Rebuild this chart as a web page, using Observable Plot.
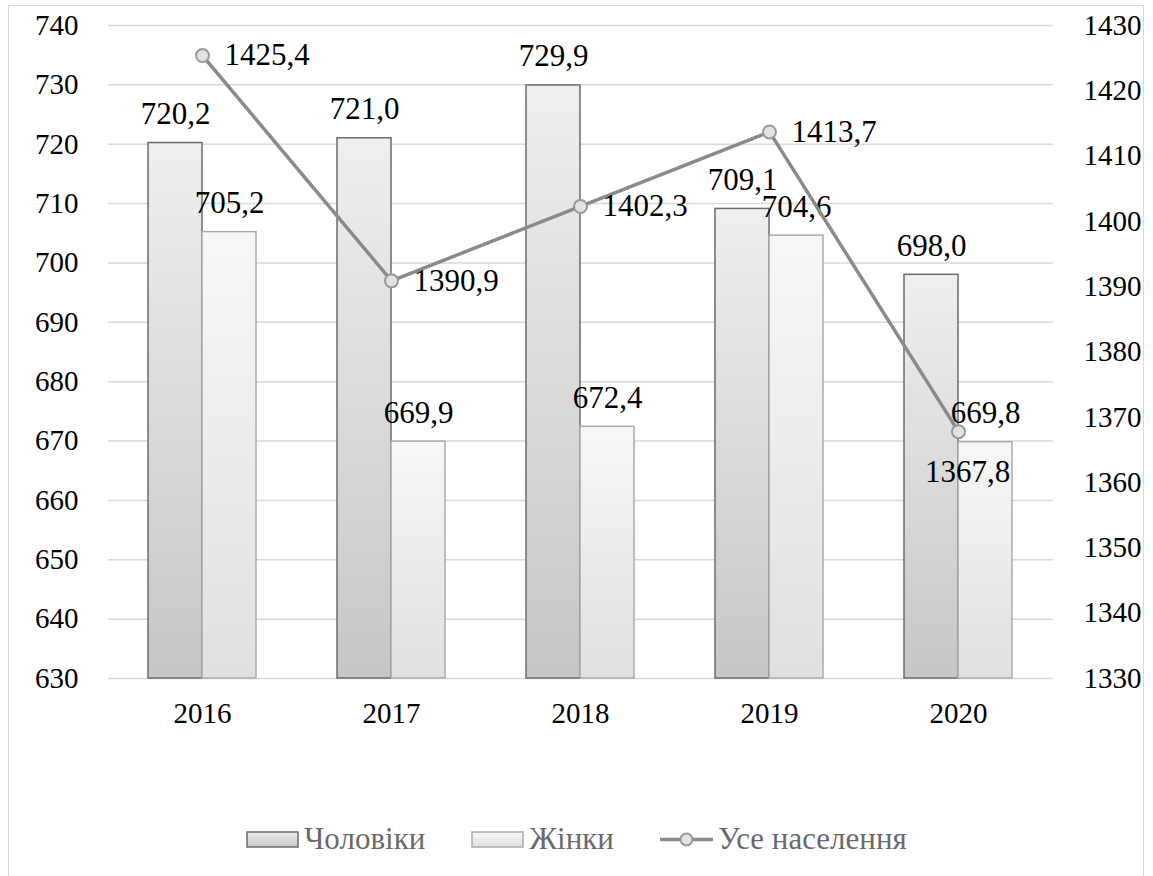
<!DOCTYPE html>
<html><head><meta charset="utf-8">
<script src="https://cdn.jsdelivr.net/npm/d3@7"></script>
<script src="https://cdn.jsdelivr.net/npm/@observablehq/plot@0.6"></script>
<style>
body{margin:0;background:#fff;}
#frame{position:absolute;left:8px;top:5px;width:1136px;height:900px;border:1px solid #d9d9d9;box-sizing:border-box;pointer-events:none;}
#legend{display:flex;justify-content:center;align-items:center;height:50px;margin-top:54px;color:#6a6a6a;font-size:31px;}
#legend .it{display:flex;align-items:center;margin:0 23px;}
#legend svg{margin-right:5px;}
</style></head><body style="font-family:'Liberation Serif', serif">
<div id="chart"></div>
<div id="legend" style="font-family:'Liberation Serif', serif"></div>
<div id="frame"></div>
<script>
const years = ["2016","2017","2018","2019","2020"];
const men = [720.2, 721.0, 729.9, 709.1, 698.0];
const women = [705.2, 669.9, 672.4, 704.6, 669.8];
const total = [1425.4, 1390.9, 1402.3, 1413.7, 1367.8];
const leftTicks = [630,640,650,660,670,680,690,700,710,720,730,740];
const rightTicks = [1330,1340,1350,1360,1370,1380,1390,1400,1410,1420,1430];
const seriesNames = ["Чоловіки","Жінки","Усе населення"];

const FF = "'Liberation Serif', serif";
const fmt = v => v.toFixed(1).replace(".", ",");
const toLeft = v => 630 + (v - 1330) * 1.1;
const fromLeft = v => Math.round((v - 630) / 1.1 + 1330);

const menData = years.map((y,i)=>({year:y, v:men[i]}));
const womenData = years.map((y,i)=>({year:y, v:women[i]}));
const totalData = years.map((y,i)=>({year:y, v:total[i], y:toLeft(total[i]), i}));

const defs = () => {
  const ns = "http://www.w3.org/2000/svg";
  const d = document.createElementNS(ns, "defs");
  d.innerHTML = `
  <linearGradient id="gMen" x1="0" y1="0" x2="0" y2="1">
    <stop offset="0" stop-color="#efefef"/><stop offset="1" stop-color="#c6c6c6"/>
  </linearGradient>
  <linearGradient id="gWomen" x1="0" y1="0" x2="0" y2="1">
    <stop offset="0" stop-color="#f7f7f7"/><stop offset="1" stop-color="#e0e0e0"/>
  </linearGradient>`;
  return d;
};

const FS = 31;
const TS = 29;
const T = {fill:"#000", fontSize:FS};
const A = {fill:"#000", fontSize:TS};
const chart = Plot.plot({
  width: 1153,
  height: 760,
  marginLeft: 108,
  marginRight: 100,
  marginTop: 25,
  marginBottom: 82,
  style: {fontSize: FS+"px", color:"#000", background:"transparent"},
  x: {domain: years, paddingInner: 0.714, paddingOuter: 0.357, label: null},
  y: {domain: [630, 740], label: null},
  marks: [
    defs,
    Plot.gridY(leftTicks, {stroke:"#d9d9d9", strokeOpacity:1, strokeWidth:1.5}),
    Plot.axisY(leftTicks, {anchor:"left", tickSize:0, tickPadding:30, label:null, ...A}),
    Plot.axisY(rightTicks.map(toLeft), {anchor:"right", tickSize:0, tickPadding:30, label:null, tickFormat: d=>String(fromLeft(d)), ...A}),
    Plot.axisX({tickSize:0, tickPadding:24, label:null, ...A}),
    Plot.barY(menData, {x:"year", y1:630, y2:"v", dx:-27, fill:"url(#gMen)", stroke:"#6b6b6b", strokeWidth:1.5}),
    Plot.barY(womenData, {x:"year", y1:630, y2:"v", dx:27, fill:"url(#gWomen)", stroke:"#ababab", strokeWidth:1.5}),
    Plot.text(menData, {x:"year", y:"v", text:d=>fmt(d.v), dx:-27, dy:-29, lineAnchor:"middle", ...T}),
    Plot.text(womenData, {x:"year", y:"v", text:d=>fmt(d.v), dx:27, dy:-29, lineAnchor:"middle", ...T}),
    Plot.line(totalData, {x:"year", y:"y", stroke:"#8a8a8a", strokeWidth:3.5}),
    Plot.dot(totalData, {x:"year", y:"y", r:6.5, fill:"#e2e2e2", stroke:"#999", strokeWidth:2}),
    Plot.text(totalData.filter(d=>d.i<4), {x:"year", y:"y", text:d=>fmt(d.v), dx:22, textAnchor:"start", lineAnchor:"middle", ...T}),
    Plot.text(totalData.filter(d=>d.i===4), {x:"year", y:"y", text:d=>fmt(d.v), dx:9, dy:40, lineAnchor:"middle", textAnchor:"middle", ...T})
  ]
});
chart.style.setProperty("font-family", FF, "important");
chart.querySelectorAll("text, g").forEach(el => {
  el.removeAttribute("font-family");
  el.style.setProperty("font-family", FF, "important");
});
document.getElementById("chart").appendChild(chart);

const lg = document.getElementById("legend");
const sw = [
  `<svg width="53" height="17"><defs><linearGradient id="lgM" x1="0" y1="0" x2="0" y2="1"><stop offset="0" stop-color="#efefef"/><stop offset="1" stop-color="#c6c6c6"/></linearGradient></defs><rect x="1" y="1" width="51" height="15" fill="url(#lgM)" stroke="#6b6b6b" stroke-width="1.5"/></svg>`,
  `<svg width="53" height="17"><defs><linearGradient id="lgW" x1="0" y1="0" x2="0" y2="1"><stop offset="0" stop-color="#f7f7f7"/><stop offset="1" stop-color="#e0e0e0"/></linearGradient></defs><rect x="1" y="1" width="51" height="15" fill="url(#lgW)" stroke="#ababab" stroke-width="1.5"/></svg>`,
  `<svg width="53" height="17"><line x1="0" y1="8.5" x2="53" y2="8.5" stroke="#8a8a8a" stroke-width="3.5"/><circle cx="26.5" cy="8.5" r="6" fill="#e2e2e2" stroke="#999" stroke-width="2"/></svg>`
];
seriesNames.forEach((n,i)=>{
  const d = document.createElement("div");
  d.className="it";
  d.innerHTML = sw[i] + `<span style="font-family:'Liberation Serif', serif">${n}</span>`;
  lg.appendChild(d);
});
</script>
</body></html>
